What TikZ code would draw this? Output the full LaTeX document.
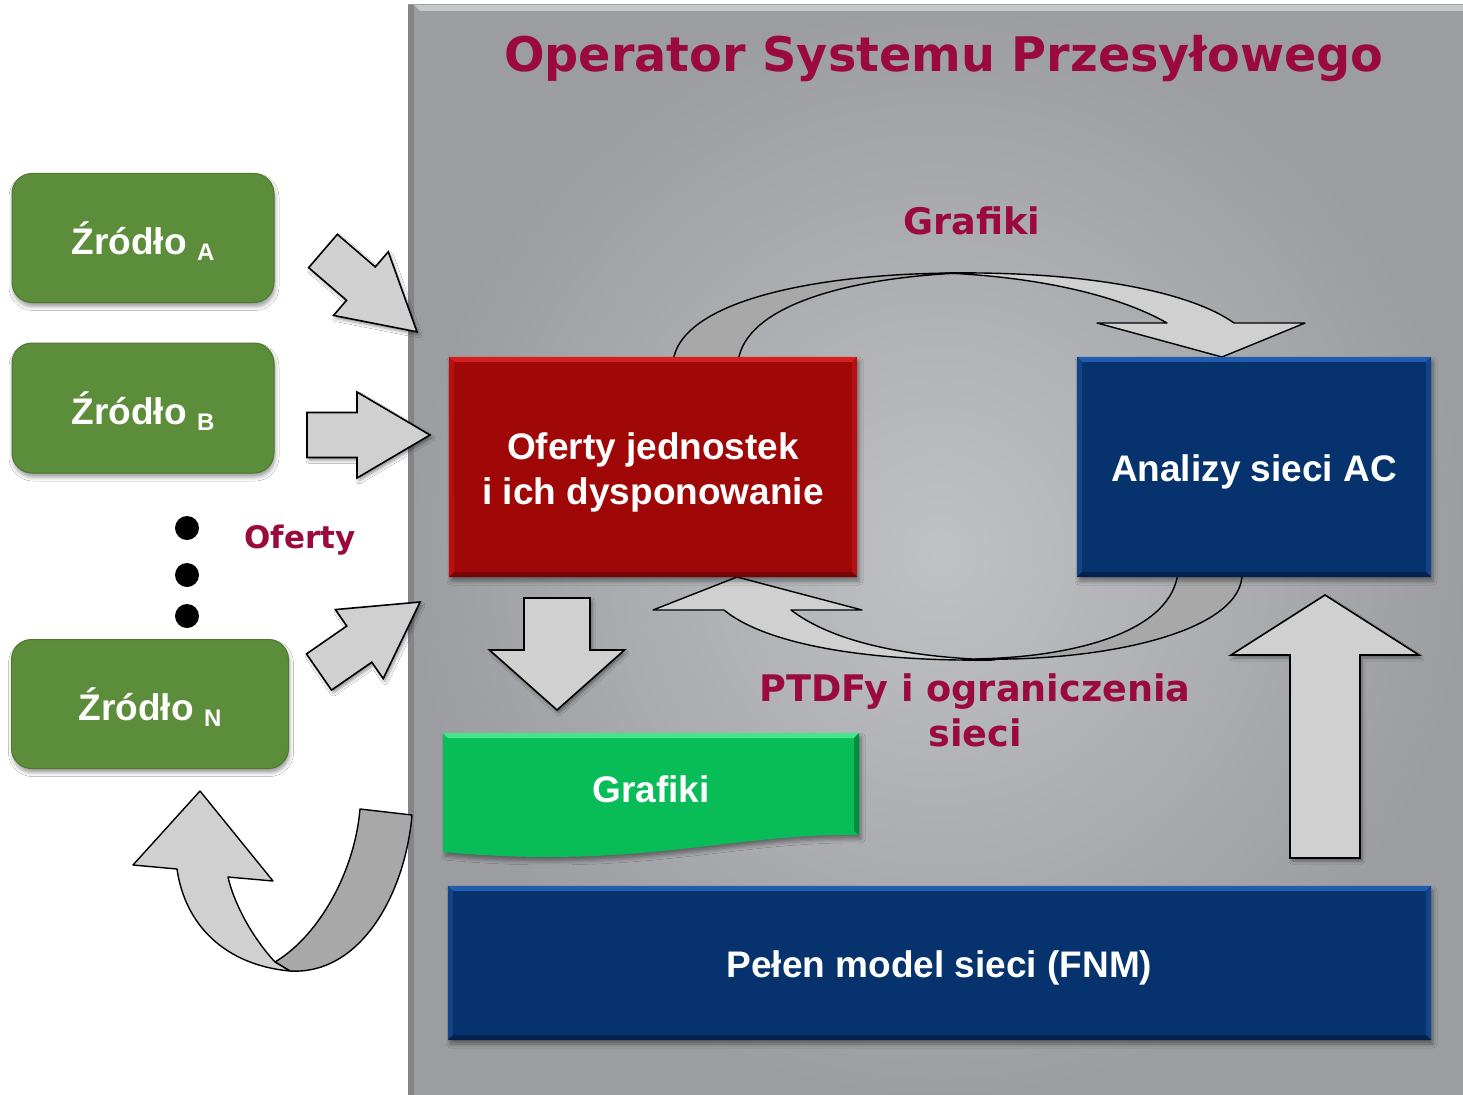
\documentclass[tikz,border=0pt]{standalone}
\usepackage{fontspec}
\setmainfont{Liberation Sans}
\newfontfamily\verd{DejaVu Sans}
\usetikzlibrary{calc,shadows.blur}
\definecolor{crim}{RGB}{155,10,60}
\definecolor{srcgreen}{RGB}{92,141,58}
\definecolor{redfill}{RGB}{160,8,8}
\definecolor{redlight}{RGB}{214,32,32}
\definecolor{redside}{RGB}{184,16,16}
\definecolor{reddark}{RGB}{118,4,4}
\definecolor{bluefill}{RGB}{6,51,110}
\definecolor{bluelight}{RGB}{34,92,172}
\definecolor{blueside}{RGB}{18,68,135}
\definecolor{bluedark}{RGB}{3,34,78}
\definecolor{gffill}{RGB}{8,188,88}
\definecolor{gflight}{RGB}{70,228,140}
\definecolor{gfdark}{RGB}{5,140,65}
\definecolor{panelin}{RGB}{192,193,197}
\definecolor{panelout}{RGB}{156,157,161}
\definecolor{arrlight}{RGB}{208,208,208}
\definecolor{arrdark}{RGB}{168,168,168}
\tikzset{
  every node/.style={inner sep=0pt},
  boxfont/.style={font=\bfseries\fontsize{37}{45}\selectfont, text=white, align=center},
  srcbox/.style={boxfont, rounded corners=20pt, fill=srcgreen, draw=srcgreen!85!black, line width=1pt,
     blur shadow={shadow xshift=1pt, shadow yshift=-4pt, shadow blur radius=4pt}},
  rectbox/.style={boxfont, blur shadow={shadow xshift=2pt, shadow yshift=-4pt, shadow blur radius=4pt}},
  barr/.style={fill=arrlight, draw=black, line width=1.6pt, line join=miter,
     blur shadow={shadow xshift=2pt, shadow yshift=-3pt, shadow blur radius=3pt}},
  frontpart/.style={fill=arrlight, draw=black, line width=1.4pt, line join=round},
  backpart/.style={fill=arrdark, draw=black, line width=1.4pt, line join=round},
  lbl/.style={font=\verd\bfseries\fontsize{36.6}{45}\selectfont, text=crim, align=center},
}
% tail x, tail y, angle, length, shaft width, head width, head length
\newcommand\blockarrow[7]{%
  \begin{scope}[shift={(#1,#2)},rotate=#3]
    \draw[barr] (0,-#5/2) -- (#4-#7,-#5/2) -- (#4-#7,-#6/2) -- (#4,0) -- (#4-#7,#6/2) -- (#4-#7,#5/2) -- (0,#5/2) -- cycle;
  \end{scope}}
\newcommand\bevelbox[5]{% node, light, side, dark, depth
  \fill[#2] (#1.north west) -- (#1.north east) -- ($(#1.north east)+(-#5,#5)$) -- ($(#1.north west)+(#5,#5)$) -- cycle;
  \fill[#3] (#1.north west) -- ($(#1.north west)+(#5,#5)$) -- ($(#1.south west)+(#5,-#5)$) -- (#1.south west) -- cycle;
  \fill[#3] (#1.north east) -- ($(#1.north east)+(-#5,#5)$) -- ($(#1.south east)+(-#5,-#5)$) -- (#1.south east) -- cycle;
  \fill[#4] (#1.south west) -- (#1.south east) -- ($(#1.south east)+(-#5,-#5)$) -- ($(#1.south west)+(#5,-#5)$) -- cycle;}
\newcommand\srctext[1]{Źródło {\fontsize{24}{24}\selectfont\raisebox{-6pt}{#1}}}
\begin{document}
\begin{tikzpicture}[x=1pt,y=-1pt]
\useasboundingbox (0,0) rectangle (1463,1094);
\fill[white] (0,0) rectangle (1463,1094);
% panel
\shade[inner color=panelin, outer color=panelout] (408,5) rectangle (1470,1100);
\fill[panelout!85!black] (408,5) rectangle (414,1100);
\fill[panelin!90!white] (414,5) -- (1470,5) -- (1470,11) -- (420,11) -- cycle;
\node[font=\verd\bfseries\fontsize{47.7}{55}\selectfont, text=crim] (title) at (944,59) {Operator Systemu Przesyłowego};

% source boxes
\node[srcbox, minimum width=262pt, minimum height=129pt] (srcA) at (143,238) {};
\node[boxfont] at (143,241) {\srctext{A}};
\node[srcbox, minimum width=262pt, minimum height=130pt] (srcB) at (143,408) {};
\node[boxfont] at (143,411) {\srctext{B}};
\node[srcbox, minimum width=277pt, minimum height=129pt] (srcN) at (150,704) {};
\node[boxfont] at (150,707) {\srctext{N}};
\foreach \yy/\nm in {528/d1,575/d2,616/d3}{\fill (187,\yy) circle (12pt) coordinate (\nm);}
\node[lbl, font=\verd\bfseries\fontsize{31}{38}\selectfont] (oferty) at (300,540) {Oferty};

% straight block arrows
\blockarrow{323}{251}{-40.7}{124}{44}{84}{74}
\blockarrow{307}{435}{0}{123}{45}{86}{73}
\blockarrow{319}{672}{34.7}{123}{44}{84}{74}
\blockarrow{557}{598}{-90}{112}{66}{135}{60}
\blockarrow{1325}{858}{90}{263}{70}{188}{60}

% top curved arrow
\filldraw[backpart] (673,362) .. controls (680,300) and (820,273) .. (960,273)
   .. controls (850,278) and (745,305) .. (738,362) -- cycle;
\filldraw[frontpart] (945,273) .. controls (1100,271) and (1195,295) .. (1234,323) -- (1305,323) -- (1222,357)
   -- (1097,323) -- (1167,323) .. controls (1120,296) and (1040,277) .. (945,273) -- cycle;
% bottom curved arrow
\filldraw[backpart] (1178,572) .. controls (1172,630) and (1080,657) .. (975,659)
   .. controls (1110,662) and (1245,630) .. (1242,572) -- cycle;
\filldraw[frontpart] (995,660) .. controls (850,662) and (760,640) .. (724,610) -- (653,610) -- (737,577)
   -- (862,610) -- (791,610) .. controls (830,640) and (900,657) .. (995,660) -- cycle;
% bottom-left U-turn arrow
\filldraw[backpart] (275,962) .. controls (320,935) and (355,870) .. (360,809) -- (412,815)
   .. controls (405,895) and (360,975) .. (290,971) -- cycle;
\filldraw[frontpart] (177,869) .. controls (185,925) and (225,965) .. (290,971) -- (275,962)
   .. controls (250,935) and (233,900) .. (228,877) -- (273,881) -- (200,791) -- (133,865) -- cycle;

% main boxes
\node[rectbox, fill=redfill, minimum width=408pt, minimum height=220pt] (offers) at (653,467) {};
\bevelbox{offers}{redlight}{redside}{reddark}{5}
\node[boxfont] at ($(offers)+(0,5)$) {Oferty jednostek\\i ich dysponowanie};
\node[rectbox, fill=bluefill, minimum width=354pt, minimum height=220pt] (ac) at (1254,467) {};
\bevelbox{ac}{bluelight}{blueside}{bluedark}{5}
\node[boxfont] at ($(ac)+(0,5)$) {Analizy sieci AC};
\node[rectbox, fill=bluefill, minimum width=983pt, minimum height=154pt] (fnm) at (939.5,963) {};
\bevelbox{fnm}{bluelight}{blueside}{bluedark}{5}
\node[boxfont] at ($(fnm)+(0,5)$) {Pełen model sieci (FNM)};
% green wavy Grafiki
\fill[gffill, blur shadow={shadow xshift=2pt, shadow yshift=-4pt, shadow blur radius=4pt}]
  (443,733) -- (859,733) -- (859,835) .. controls (730,833) and (640,870) .. (443,852) -- cycle;
\fill[gflight] (443,733) -- (859,733) -- (854,738) -- (448,738) -- cycle;
\fill[gfdark] (859,733) -- (859,835) -- (854,831) -- (854,738) -- cycle;
\node[boxfont] (graf) at (651,789) {Grafiki};

% labels
\node[lbl] (lgraf) at (972,221) {Grafiki};
\node[lbl] (lptdf) at (975,710) {PTDFy i ograniczenia\\sieci};
\end{tikzpicture}
\end{document}
